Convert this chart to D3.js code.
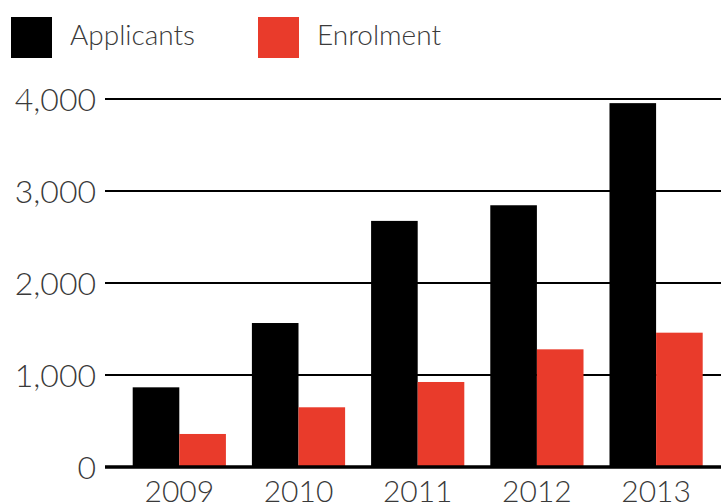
<!DOCTYPE html>
<html><head><meta charset="utf-8">
<script src="https://cdn.jsdelivr.net/npm/d3@7"></script>
<style>
html,body{margin:0;padding:0;background:#fff;overflow:hidden}
text{font-family:Lato,"Open Sans",sans-serif;font-weight:300;fill:#3a3a3a}
</style></head>
<body><svg id="c" width="721" height="503"></svg>
<script>
const years = ["2009","2010","2011","2012","2013"];
const applicants = [866, 1565, 2675, 2845, 3955];
const enrolment = [359, 649, 924, 1279, 1460];
const seriesNames = ["Applicants","Enrolment"];
const seriesColors = ["#000000","#e93b2b"];
const yTicks = [0,1000,2000,3000,4000];

const svg = d3.select("#c");
const y = d3.scaleLinear().domain([0,4000]).range([467,99]);
const x0 = d3.scaleBand().domain(years).range([132.7,702.7]).paddingInner(0.218).paddingOuter(0);
const x1 = d3.scaleBand().domain(seriesNames).range([0,x0.bandwidth()]).padding(0);
const color = d3.scaleOrdinal().domain(seriesNames).range(seriesColors);

// gridlines & y labels
const yAxis = d3.axisLeft(y).tickValues(yTicks).tickFormat(d3.format(",")).tickSize(0).tickPadding(0);
const ga = svg.append("g").attr("transform","translate(96,0)").call(yAxis);
ga.select(".domain").remove();
ga.selectAll("text").style("font-size","32px").attr("x",0).attr("dy","0.36em").style("fill","#3a3a3a").style("font-family","Lato,'Open Sans',sans-serif");

svg.append("g").selectAll("line").data(yTicks.filter(d=>d>0)).join("line")
  .attr("x1",105).attr("x2",721).attr("y1",d=>y(d)).attr("y2",d=>y(d))
  .attr("stroke","#000").attr("stroke-width",2);

// bars
const data = years.map((yr,i)=>({year:yr, values:[{k:"Applicants",v:applicants[i]},{k:"Enrolment",v:enrolment[i]}]}));
svg.append("g").selectAll("g").data(data).join("g")
  .attr("transform",d=>`translate(${x0(d.year)},0)`)
  .selectAll("rect").data(d=>d.values).join("rect")
  .attr("x",d=>x1(d.k)).attr("width",x1.bandwidth())
  .attr("y",d=>y(d.v)).attr("height",d=>y(0)-y(d.v))
  .attr("fill",d=>color(d.k));

// zero baseline
svg.append("line").attr("x1",105).attr("x2",721).attr("y1",y(0)).attr("y2",y(0))
  .attr("stroke","#000").attr("stroke-width",3.5);

// x axis labels
const xAxis = d3.axisBottom(x0).tickSize(0).tickPadding(0);
const gx = svg.append("g").attr("transform","translate(0,502)").call(xAxis);
gx.select(".domain").remove();
gx.selectAll("text").attr("y",0).attr("dy",0).style("font-size","30px").style("fill","#3a3a3a").style("font-family","Lato,'Open Sans',sans-serif");

// legend
const leg = svg.append("g");
const legX = [11,258];
seriesNames.forEach((n,i)=>{
  const g = leg.append("g").attr("transform",`translate(${legX[i]},17)`);
  g.append("rect").attr("width",41).attr("height",41).attr("fill",color(n));
  g.append("text").attr("x",59).attr("y",28).style("font-size","28px").text(n);
});
</script></body></html>
